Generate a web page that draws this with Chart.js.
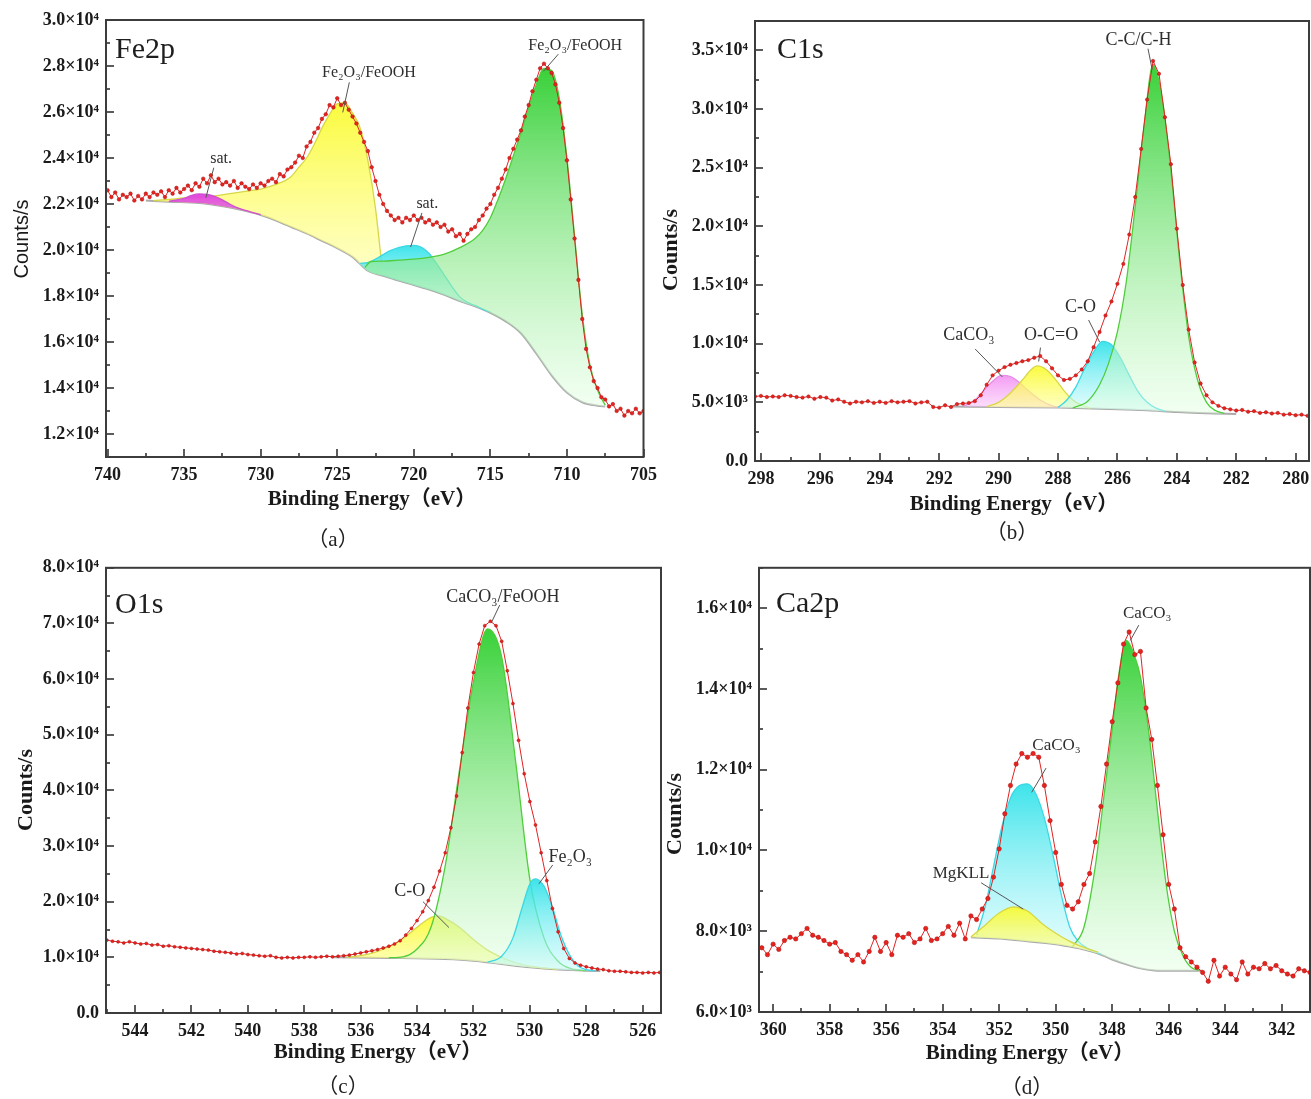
<!DOCTYPE html>
<html><head><meta charset="utf-8">
<script src="https://cdn.jsdelivr.net/npm/chart.js@4.4.1/dist/chart.umd.min.js"></script>
<style>
html,body{margin:0;padding:0;background:#fff;}
#wrap{position:relative;width:1311px;height:1099px;overflow:hidden;background:#fff;}
canvas{position:absolute;}
.sub{position:absolute;font:21px 'Liberation Serif','Noto Sans CJK SC',serif;color:#222;transform:translate(-50%,-50%);white-space:nowrap;}
</style></head><body>
<div id="wrap">
<canvas id="ca" width="665" height="550" style="left:0;top:0"></canvas>
<canvas id="cb" width="670" height="550" style="left:650px;top:0"></canvas>
<canvas id="cc" width="680" height="549" style="left:0;top:550px"></canvas>
<canvas id="cd" width="665" height="549" style="left:655px;top:550px"></canvas>
<div class="sub" style="left:333px;top:537px">（a）</div>
<div class="sub" style="left:1012px;top:530px">（b）</div>
<div class="sub" style="left:343px;top:1084px">（c）</div>
<div class="sub" style="left:1027px;top:1085px">（d）</div>
</div>
<script>
// ================= DATA =================
// ---- (a) Fe2p ----
const aStart = 740, aStep = 0.25;
const aCounts = [
22600,22300,22500,22200,22400,22300,22450,22150,22350,22200,
22450,22300,22500,22400,22550,22300,22600,22450,22700,22500,
22650,22800,22600,22900,22750,23100,22900,23250,22950,23100,
22850,22950,22800,23000,22700,22900,22750,22650,22850,22700,
22900,22800,23000,23100,22950,23300,23200,23500,23600,23800,
24100,24000,24500,24700,25100,25300,25700,25900,26300,26200,
26600,26300,26400,26100,25800,25500,25100,24700,24300,23600,
23000,22400,22000,21700,21500,21300,21400,21200,21400,21300,
21500,21300,21400,21200,21300,21100,21200,21000,21100,20800,
20900,20600,20700,20400,20700,20900,21000,21300,21500,21800,
22000,22400,22700,23100,23500,24000,24400,24800,25200,25800,
26300,26900,27400,27900,28100,27900,27700,27200,26400,25300,
23900,22200,20500,18700,17000,15700,14900,14300,14000,13600,
13500,13200,13300,13000,13100,12800,13000,12900,13100,12900,
13000];
const aBgE = [737.5,736,734,733,732,731,730,729,728,727,726,725,724,723,722,721,720,719,718,717,716,715,714,713,712,711,710,709,708,707.5];
const aBg  = [22150,22100,22040,21960,21850,21700,21520,21280,21000,20720,20400,20080,19700,19100,18880,18670,18480,18280,18050,17780,17550,17270,16900,16380,15500,14550,13800,13380,13230,13200];
const aMagE = [736,735,734.5,734,733.5,733,732.5,732,731.5,731,730.5,730];
const aMag  = [22110,22250,22380,22440,22420,22330,22180,21990,21830,21720,21630,21540];
const aYelE = [737,736,735,734,733,732,731,730,729,728,727.5,727,726.5,726,725.5,725,724.5,724,723.5,723,722.5,722.1];
const aYel  = [22150,22200,22260,22300,22350,22450,22550,22650,22850,23200,23600,24000,24600,25300,25900,26350,26400,25950,25300,23900,21800,19400];
const aCyaE = [723.5,723,722.5,722,721.5,721,720.5,720,719.5,719,718.5,718,717.5,717,716.5,716,715.5,715];
const aCya  = [19420,19450,19600,19800,19980,20100,20180,20200,20120,19850,19400,18900,18400,17960,17720,17590,17430,17290];
const aGrnE = [723.2,722.8,722,721,720,719,718,717,716,715.5,715,714.5,714,713.5,713,712.5,712,711.5,711,710.5,710,709.5,709,708.5,708,707.5];
const aGrn  = [19240,19500,19520,19560,19600,19680,19820,20100,20500,20850,21400,22200,23100,24100,25100,26200,27200,27900,27800,26600,24000,20600,17200,15000,13900,13250];
const aXTicks = [740,735,730,725,720,715,710,705];
const aYTicks = [12000,14000,16000,18000,20000,22000,24000,26000,28000,30000];
const aYLabels = ['1.2×10⁴','1.4×10⁴','1.6×10⁴','1.8×10⁴','2.0×10⁴','2.2×10⁴','2.4×10⁴','2.6×10⁴','2.8×10⁴','3.0×10⁴'];

// ---- (b) C1s ----
const bStart = 298.2, bStep = 0.2;
const bCounts = [
5500,5550,5450,5500,5450,5600,5550,5450,5400,5500,
5300,5450,5400,5150,5250,5050,4900,5050,5000,5100,
4950,5050,4950,5100,5000,5050,5100,4900,5000,5050,
4600,4550,4750,4600,4850,4900,4950,5100,5600,6500,
7300,7700,8000,8200,8350,8500,8600,8800,8950,8500,
7900,7300,6900,7000,7300,7800,8500,9700,11000,12400,
13600,15100,16800,19300,22500,26600,30800,34100,33000,29300,
25300,19800,15000,11200,8400,6600,5600,5000,4700,4500,
4400,4300,4350,4200,4250,4100,4150,4050,4100,3950,
4000,3900,3950,3850];
const bBgE = [291.6,290,288,286,285,284,283,282];
const bBg  = [4650,4600,4550,4420,4320,4170,4060,4000];
const bMagE = [291.2,290.8,290.5,290.2,289.9,289.6,289.3,289.0,288.6,288.2,287.8];
const bMag  = [4640,5200,6000,6800,7300,7200,6700,6000,5200,4700,4560];
const bYelE = [290.4,290.0,289.6,289.2,288.9,288.7,288.4,288.1,287.8,287.5,287.2,286.9];
const bYel  = [4620,5000,5800,6900,7800,8100,7800,7000,6000,5200,4750,4500];
const bCyaE = [288.0,287.7,287.4,287.1,286.8,286.5,286.2,285.9,285.6,285.3,285.0,284.7,284.4];
const bCya  = [4550,5200,6300,7900,9300,10200,9900,8800,7300,5900,5000,4500,4260];
const bGrnE = [287.5,287.0,286.6,286.3,286.0,285.7,285.4,285.1,284.8,284.5,284.2,283.9,283.6,283.3,283.0,282.7,282.4];
const bGrn  = [4530,5100,6500,8300,11000,15300,21700,28600,33800,31000,24800,17000,10600,6900,5000,4300,4050];
const bXTicks = [298,296,294,292,290,288,286,284,282,280];
const bYTicks = [0,5000,10000,15000,20000,25000,30000,35000];
const bYLabels = ['0.0','5.0×10³','1.0×10⁴','1.5×10⁴','2.0×10⁴','2.5×10⁴','3.0×10⁴','3.5×10⁴'];

// ---- (c) O1s ----
const cStart = 545.0, cStep = 0.2;
const cCounts = [
13100,12900,12800,12600,12800,12600,12400,12500,12200,12300,
12000,12100,11900,11800,11700,11600,11500,11400,11300,11100,
11000,10900,10800,10600,10700,10500,10400,10300,10200,10300,
10000,9900,10000,9900,10000,10000,10100,10000,10100,10200,
10100,10200,10300,10400,10600,10800,11000,11200,11400,11700,
12000,12400,13000,14000,15200,16600,18200,20200,22600,25500,
28800,33300,39000,46800,54800,61200,66300,69600,70400,69600,
66800,61500,55600,49000,43000,38000,33800,28800,23800,18800,
14600,11600,9800,9000,8600,8300,8100,7900,7800,7600,
7500,7500,7400,7300,7300,7200,7300,7200,7300];
const cBgE = [537,535,533,532,531,530,529,528,527.5];
const cBg  = [10000,9900,9700,9400,8800,8200,7800,7600,7550];
const cYelE = [536.5,536,535.5,535,534.5,534,533.5,533.2,533,532.5,532,531.5,531,530.5,530,529.5,529];
const cYel  = [10000,10300,10900,11900,13400,15400,17200,17400,17000,15400,13200,11300,10000,9000,8400,8100,7850];
const cGrnE = [535,534.5,534,533.5,533,532.5,532,531.5,531,530.5,530,529.5,529,528.5,528];
const cGrn  = [9950,10100,11500,15500,26500,43500,59500,69000,64000,45000,24000,13500,9300,7900,7620];
const cCyaE = [531.5,531,530.6,530.3,530,529.8,529.5,529.2,528.9,528.6,528.3,528,527.7];
const cCya  = [9130,10200,13500,18500,23200,24100,22800,19000,14000,10500,8500,7800,7580];
const cXTicks = [544,542,540,538,536,534,532,530,528,526];
const cYTicks = [0,10000,20000,30000,40000,50000,60000,70000,80000];
const cYLabels = ['0.0','1.0×10⁴','2.0×10⁴','3.0×10⁴','4.0×10⁴','5.0×10⁴','6.0×10⁴','7.0×10⁴','8.0×10⁴'];

// ---- (d) Ca2p ----
const dStart = 360.4, dStep = 0.2;
const dCounts = [
7590,7420,7680,7550,7770,7850,7810,7940,8070,7900,
7850,7770,7680,7720,7500,7420,7280,7420,7240,7500,
7850,7500,7720,7420,7900,7850,7940,7720,7810,8070,
7770,7810,7940,8120,7900,8200,7810,8380,8290,8550,
8810,9340,10040,10910,11610,12140,12400,12310,12400,12310,
11610,10740,9950,9160,8640,8550,8730,9160,9430,10210,
11090,12140,13190,14150,15110,15410,14850,14930,13530,12750,
11610,10390,9160,8550,7590,7370,7240,7110,6980,6760,
7280,6890,7110,6940,6800,7240,6940,7110,7070,7200,
7070,7150,7020,6940,6890,7070,7020,6980];
const dBgE = [353,352,351,350,349.5,349,348.5,348,347.5,347,346.5,346,345,344.8];
const dBg  = [7850,7820,7750,7680,7620,7550,7450,7300,7180,7080,7030,7020,7020,7020];
const dYelE = [353,352.5,352,351.5,351,350.5,350,349.5,349,348.5];
const dYel  = [7860,8150,8450,8600,8500,8200,7950,7750,7600,7480];
const dCyaE = [352.8,352.5,352.2,351.9,351.6,351.3,351.0,350.7,350.4,350.1,349.8,349.5,349.2,348.8,348.4];
const dCya  = [7900,8600,9600,10600,11300,11600,11650,11400,10800,9900,8900,8100,7750,7550,7430];
const dGrnE = [349.4,349,348.6,348.3,348,347.8,347.5,347.2,347,346.7,346.4,346.1,345.8,345.5,345.2,344.9];
const dGrn  = [7620,8100,9600,11300,13000,14200,15200,14800,14300,12900,11000,9200,8000,7400,7100,7030];
const dXTicks = [360,358,356,354,352,350,348,346,344,342];
const dYTicks = [6000,8000,10000,12000,14000,16000];
const dYLabels = ['6.0×10³','8.0×10³','1.0×10⁴','1.2×10⁴','1.4×10⁴','1.6×10⁴'];

// ================= HELPERS =================
function series(start, step, vals){ return vals.map((y,i)=>({x:+(start - i*step).toFixed(2), y})); }
function pts(xs, ys){ return xs.map((x,i)=>({x, y:ys[i]})); }

const STY = {
  green:  {line:'rgb(80,205,60)',  top:'rgba(40,205,40,0.92)',  bot:'rgba(225,255,225,0.45)'},
  yellow: {line:'rgb(215,215,70)', top:'rgba(250,250,40,0.9)',  bot:'rgba(255,255,150,0.6)'},
  cyan:   {line:'rgb(60,215,228)', top:'rgba(40,225,232,0.9)',  bot:'rgba(200,250,252,0.5)'},
  magenta:{line:'rgb(205,80,205)', top:'rgba(225,60,225,0.95)', bot:'rgba(225,110,225,0.85)'},
  pink:   {line:'rgb(230,140,230)',top:'rgba(240,130,240,0.8)', bot:'rgba(250,200,250,0.6)'}
};
function grad(st){
  return (c) => {
    const chart = c.chart, area = chart.chartArea;
    if (!area || !chart.scales.y) return st.top;
    const ds = chart.data.datasets[c.datasetIndex];
    const ys = ds.data.map(p=>p.y);
    const y0 = chart.scales.y.getPixelForValue(Math.max(...ys));
    const y1 = chart.scales.y.getPixelForValue(Math.min(...ys));
    if (!isFinite(y0) || !isFinite(y1) || y1 - y0 < 1) return st.top;
    const g = chart.ctx.createLinearGradient(0, y0, 0, y1);
    g.addColorStop(0, st.top); g.addColorStop(1, st.bot);
    return g;
  };
}

const TICKFONT = {family:"'Liberation Serif', 'DejaVu Serif', serif", size:18, weight:'bold'};

const deco = {
  id:'deco',
  afterDraw(chart){
    const o = chart.options.plugins.deco; if(!o) return;
    const ctx = chart.ctx, A = chart.chartArea, xs = chart.scales.x, ys = chart.scales.y;
    ctx.save();
    // inner ticks
    ctx.strokeStyle = '#333'; ctx.lineWidth = 1.6;
    const xmin = Math.min(xs.min, xs.max), xmax = Math.max(xs.min, xs.max);
    for (let k = Math.ceil(xmin / o.xMinor - 1e-6); k * o.xMinor <= xmax + 1e-6; k++) {
      const v = k * o.xMinor;
      const major = o.xTicks.some(t => Math.abs(t - v) < 1e-6);
      const px = Math.round(xs.getPixelForValue(v));
      ctx.beginPath(); ctx.moveTo(px, A.bottom); ctx.lineTo(px, A.bottom - (major ? 8 : 4)); ctx.stroke();
    }
    for (let k = Math.ceil(ys.min / o.yMinor - 1e-6); k * o.yMinor <= ys.max + 1e-6; k++) {
      const v = k * o.yMinor;
      const major = o.yTicks.some(t => Math.abs(t - v) < 1e-6);
      const py = Math.round(ys.getPixelForValue(v));
      ctx.beginPath(); ctx.moveTo(A.left, py); ctx.lineTo(A.left + (major ? 8 : 4), py); ctx.stroke();
    }
    // frame
    ctx.strokeStyle = '#3c3c3c'; ctx.lineWidth = 2;
    ctx.strokeRect(A.left, A.top, A.right - A.left, A.bottom - A.top);
    // panel name
    ctx.fillStyle = '#1e1e1e'; ctx.font = "30px 'Liberation Serif', serif";
    ctx.textAlign = 'left'; ctx.textBaseline = 'alphabetic';
    ctx.fillText(o.name, A.left + o.nameDx, A.top + o.nameDy);
    // annotations
    ctx.font = o.noteFont; ctx.textAlign = 'center'; ctx.textBaseline = 'middle';
    o.notes.forEach(n => {
      ctx.fillStyle = '#2e2e2e';
      ctx.fillText(n.t, xs.getPixelForValue(n.x), ys.getPixelForValue(n.y));
      ctx.strokeStyle = '#555'; ctx.lineWidth = 1;
      ctx.beginPath();
      ctx.moveTo(xs.getPixelForValue(n.l[0]), ys.getPixelForValue(n.l[1]));
      ctx.lineTo(xs.getPixelForValue(n.l[2]), ys.getPixelForValue(n.l[3]));
      ctx.stroke();
    });
    // axis titles
    ctx.fillStyle = '#1a1a1a';
    ctx.font = "bold 21px 'Liberation Serif', 'Noto Sans CJK SC', serif";
    ctx.textAlign = 'center'; ctx.textBaseline = 'middle';
    ctx.fillText('Binding Energy（eV）', o.xt[0], o.xt[1]);
    ctx.save();
    ctx.translate(o.yt[0], o.yt[1]); ctx.rotate(-Math.PI/2);
    ctx.font = o.yFont;
    ctx.fillText('Counts/s', 0, 0);
    ctx.restore();
    ctx.restore();
  }
};

function makePanel(id, P){
  const datasets = [];
  datasets.push({label:'data', data:P.data, borderColor:'rgb(225,35,35)', borderWidth:1,
    pointRadius:P.pr, pointBackgroundColor:'#e8231e', pointBorderColor:'#a81010', pointBorderWidth:0.5,
    fill:false, tension:0});
  const bgIndex = P.comps.length + 1;
  P.comps.forEach(c => {
    const st = STY[c.color];
    datasets.push({label:c.name, data:c.data, borderColor:st.line, borderWidth:1.3, pointRadius:0,
      backgroundColor:grad(st), fill:bgIndex, cubicInterpolationMode:'monotone'});
  });
  datasets.push({label:'background', data:P.bg, borderColor:'#ababab', borderWidth:2, pointRadius:0,
    fill:false, cubicInterpolationMode:'monotone'});
  return new Chart(document.getElementById(id), {
    type:'line',
    data:{datasets},
    plugins:[deco],
    options:{
      responsive:false, animation:false, devicePixelRatio:1, events:[],
      layout:{padding:{left:0, top:P.T, right:P.R, bottom:0}},
      plugins:{legend:{display:false}, tooltip:{enabled:false},
        deco:{name:P.name, nameDx:P.nameDx, nameDy:P.nameDy, notes:P.notes, noteFont:P.noteFont,
          xTicks:P.xTicks, yTicks:P.yTicks, xMinor:P.xMinor, yMinor:P.yMinor, xt:P.xt, yt:P.yt, yFont:P.yFont}},
      scales:{
        x:{type:'linear', reverse:true, min:P.xmin, max:P.xmax,
          grid:{display:false, drawTicks:false}, border:{display:false},
          ticks:{font:TICKFONT, color:'#1a1a1a', padding:8, maxRotation:0, autoSkip:false,
            callback:(v)=>String(v)},
          afterBuildTicks:(s)=>{ s.ticks = P.xTicks.map(v=>({value:v})); },
          afterFit:(s)=>{ s.height = P.xH; }},
        y:{type:'linear', min:P.ymin, max:P.ymax,
          grid:{display:false, drawTicks:false}, border:{display:false},
          ticks:{font:TICKFONT, color:'#1a1a1a', padding:7, autoSkip:false,
            callback:(v,i)=>P.yLabels[i]},
          afterBuildTicks:(s)=>{ s.ticks = P.yTicks.map(v=>({value:v})); },
          afterFit:(s)=>{ s.width = P.yW; }}
      }
    }
  });
}

const SERIF_B = "bold 22px 'Liberation Serif', serif";

makePanel('ca', {
  data:series(aStart, aStep, aCounts), pr:1.8,
  comps:[
    {name:'sat. 733',          color:'magenta', data:pts(aMagE, aMag)},
    {name:'Fe2O3/FeOOH 2p3/2', color:'green',   data:pts(aGrnE, aGrn)},
    {name:'sat. 720',          color:'cyan',    data:pts(aCyaE, aCya)},
    {name:'Fe2O3/FeOOH 2p1/2', color:'yellow',  data:pts(aYelE, aYel)}],
  bg:pts(aBgE, aBg),
  xmin:705, xmax:740.1, ymin:11000, ymax:30000,
  xTicks:aXTicks, yTicks:aYTicks, yLabels:aYLabels, xMinor:2.5, yMinor:1000,
  T:20, R:18, xH:93, yW:106,
  name:'Fe2p', nameDx:9, nameDy:38,
  noteFont:"16px 'Liberation Serif', serif",
  notes:[
    {t:'Fe₂O₃/FeOOH', x:722.93, y:27707, l:[724.21,27292,724.64,25982]},
    {t:'Fe₂O₃/FeOOH', x:709.46, y:28886, l:[710.56,28515,711.53,27772]},
    {t:'sat.', x:732.58, y:23951, l:[733.06,23579,733.58,22269]},
    {t:'sat.', x:719.12, y:22029, l:[719.47,21614,720.21,20129]}],
  xt:[372,500], yt:[22,239], yFont:"20px 'Liberation Sans', Arial, sans-serif"
});

makePanel('cb', {
  data:series(bStart, bStep, bCounts), pr:1.7,
  comps:[
    {name:'C-C/C-H', color:'green',  data:pts(bGrnE, bGrn)},
    {name:'C-O',     color:'cyan',   data:pts(bCyaE, bCya)},
    {name:'O-C=O',   color:'yellow', data:pts(bYelE, bYel)},
    {name:'CaCO3',   color:'pink',   data:pts(bMagE, bMag)}],
  bg:pts(bBgE, bBg),
  xmin:279.55, xmax:298.2, ymin:0, ymax:37500,
  xTicks:bXTicks, yTicks:bYTicks, yLabels:bYLabels, xMinor:1, yMinor:2500,
  T:21, R:11, xH:89, yW:105,
  name:'C1s', nameDx:22, nameDy:37,
  noteFont:"18px 'Liberation Serif', serif",
  notes:[
    {t:'C-C/C-H', x:285.29, y:35880, l:[284.97,35140,284.83,33370]},
    {t:'CaCO₃', x:291.0, y:10700, l:[290.79,9550,289.87,7160]},
    {t:'O-C=O', x:288.23, y:10700, l:[288.59,9665,288.65,8480]},
    {t:'C-O', x:287.24, y:13125, l:[286.97,12020,286.6,10140]}],
  xt:[364,505], yt:[21,250], yFont:SERIF_B
});

makePanel('cc', {
  data:series(cStart, cStep, cCounts), pr:1.5,
  comps:[
    {name:'Fe2O3',       color:'cyan',   data:pts(cCyaE, cCya)},
    {name:'CaCO3/FeOOH', color:'green',  data:pts(cGrnE, cGrn)},
    {name:'C-O',         color:'yellow', data:pts(cYelE, cYel)}],
  bg:pts(cBgE, cBg),
  xmin:525.35, xmax:545.03, ymin:0, ymax:80000,
  xTicks:cXTicks, yTicks:cYTicks, yLabels:cYLabels, xMinor:1, yMinor:5000,
  T:16, R:19, xH:86, yW:106,
  name:'O1s', nameDx:9, nameDy:45,
  noteFont:"18px 'Liberation Serif', serif",
  notes:[
    {t:'CaCO₃/FeOOH', x:530.96, y:74730, l:[531.07,73300,531.37,70090]},
    {t:'Fe₂O₃', x:528.57, y:28040, l:[529.19,26600,529.68,23210]},
    {t:'C-O', x:534.26, y:21960, l:[533.79,20000,532.87,15360]}],
  xt:[378,503], yt:[26,240], yFont:SERIF_B
});

makePanel('cd', {
  data:series(dStart, dStep, dCounts), pr:2.2,
  comps:[
    {name:'MgKLL',       color:'yellow', data:pts(dYelE, dYel)},
    {name:'CaCO3 2p3/2', color:'green',  data:pts(dGrnE, dGrn)},
    {name:'CaCO3 2p1/2', color:'cyan',   data:pts(dCyaE, dCya)}],
  bg:pts(dBgE, dBg),
  xmin:341.0, xmax:360.5, ymin:6000, ymax:17000,
  xTicks:dXTicks, yTicks:dYTicks, yLabels:dYLabels, xMinor:1, yMinor:1000,
  T:17, R:10, xH:87, yW:104,
  name:'Ca2p', nameDx:17, nameDy:44,
  noteFont:"17px 'Liberation Serif', serif",
  notes:[
    {t:'CaCO₃', x:346.76, y:15860, l:[347.06,15580,347.36,15200]},
    {t:'CaCO₃', x:349.97, y:12610, l:[350.34,12040,350.85,11440]},
    {t:'MgKLL', x:353.35, y:9440, l:[352.64,9200,351.15,8550]}],
  xt:[375,504], yt:[20,264], yFont:SERIF_B
});
</script>
</body></html>
